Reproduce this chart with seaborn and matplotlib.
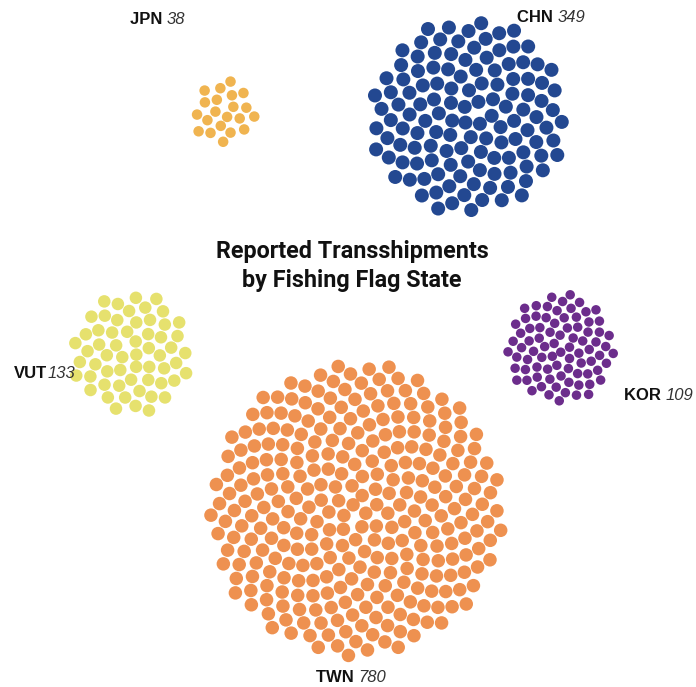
import numpy as np
import pandas as pd
import matplotlib
matplotlib.use("Agg")
import matplotlib.pyplot as plt
import seaborn as sns

# Reported transshipments by fishing flag state
countries = ["JPN", "CHN", "VUT", "KOR", "TWN"]
transshipments = [38, 349, 133, 109, 780]

# Cluster styling: centre (px), dot diameter (px), dot pitch (px), colour
centers = {"JPN": (224, 113), "CHN": (468, 117), "VUT": (131, 353),
           "KOR": (560, 348), "TWN": (356, 510)}
dot_diam = {"JPN": 10.5, "CHN": 14.0, "VUT": 12.5, "KOR": 9.5, "TWN": 13.5}
dot_pitch = {"JPN": 13.5, "CHN": 16.5, "VUT": 15.0, "KOR": 11.5, "TWN": 16.0}
colors = {"JPN": "#F0B450", "CHN": "#234891", "VUT": "#E6E16E",
          "KOR": "#6C2D8C", "TWN": "#EE9150"}
label_pos = {"JPN": (130, 20, " "), "CHN": (517, 17, " "), "VUT": (14, 373, ""),
             "KOR": (624, 395, " "), "TWN": (316, 677, " ")}
rotation = {"JPN": 0.9, "CHN": 2.0, "VUT": 0.3, "KOR": 1.4, "TWN": 4.2}

RADIUS_SCALE = 5.25  # px of cluster radius per sqrt(transshipment)
GOLDEN = np.pi * (3 - np.sqrt(5))

rows = []
for code, value in zip(countries, transshipments):
    R = RADIUS_SCALE * np.sqrt(value)          # cluster area proportional to value
    c = 0.525 * dot_pitch[code]
    n = int(round((R / c) ** 2))
    i = np.arange(n)
    r = c * np.sqrt(i + 0.5)
    th = i * GOLDEN + rotation[code]
    cx, cy = centers[code]
    for xx, yy in zip(cx + r * np.cos(th), cy + r * np.sin(th)):
        rows.append({"country": code, "x": xx, "y": yy})
df = pd.DataFrame(rows)

dpi = 100
fig = plt.figure(figsize=(6.96, 6.87), dpi=dpi)
ax = fig.add_axes([0, 0, 1, 1])
sizes = {k: (v * 72 / dpi) ** 2 for k, v in dot_diam.items()}
sns.scatterplot(data=df, x="x", y="y", hue="country", size="country",
                palette=colors, sizes=sizes, linewidth=0, legend=False, ax=ax)
ax.set_xlim(0, 696)
ax.set_ylim(687, 0)
ax.axis("off")

ax.text(352, 266, "Reported Transshipments\nby Fishing Flag State",
        ha="center", va="center", fontsize=16.8, fontweight="bold",
        family="Roboto", color="#111111", linespacing=1.3)

fig.canvas.draw()
renderer = fig.canvas.get_renderer()
for code, value in zip(countries, transshipments):
    x, y, sep = label_pos[code]
    t = ax.text(x, y, code + sep, ha="left", va="center", fontsize=12,
                fontweight="bold", family="Liberation Sans", color="#111111")
    bb = t.get_window_extent(renderer=renderer)
    xd = ax.transData.inverted().transform((bb.x1, bb.y0))[0]
    ax.text(xd, y, str(value), ha="left", va="center", fontsize=12,
            fontstyle="italic", family="Liberation Sans", color="#333333")

fig.savefig("out.png", dpi=dpi, facecolor="white")
